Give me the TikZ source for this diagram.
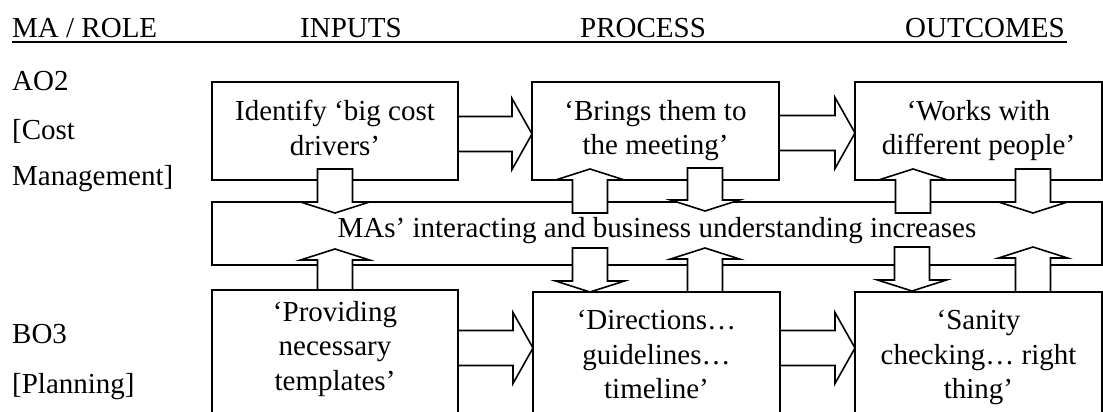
\documentclass[tikz,border=0pt]{standalone}
\usepackage{fontspec}
\setmainfont{Liberation Serif}
\usetikzlibrary{calc,positioning}
\tikzset{
  roleBox/.style={
    rectangle,
    draw=black,
    line width=1.6pt,
    inner sep=0pt,
    outer sep=0pt,
    anchor=north west
 },
  boxText/.style={
    align=center,
    inner sep=0pt
 },
  headText/.style={
    inner sep=0pt,
    anchor=base west
 },
  blockArrow/.style={
    draw=black,
    fill=white,
    line width=1.6pt
 },
  rightArrow/.style={
    blockArrow,
    to path={let \p1=(\tikztostart), \p2=(\tikztotarget) in
      (\x1,{\y1+17.5pt}) -- ({\x2-20pt},{\y1+17.5pt}) -- ({\x2-20pt},{\y1+35.5pt}) -- (\x2,\y1)
      -- ({\x2-20pt},{\y1-35.5pt}) -- ({\x2-20pt},{\y1-17.5pt}) -- (\x1,{\y1-17.5pt}) -- cycle}
 },
  vertArrow/.style={
    blockArrow,
    to path={let \p1=(\tikztostart), \p2=(\tikztotarget),
        \p3=($(\tikztotarget)!11pt!(\tikztostart)$) in
      ({\x1-17.5pt},\y1) -- ({\x1-17.5pt},\y3) -- ({\x1-34.5pt},\y3) -- (\x1,\y2)
      -- ({\x1+34.5pt},\y3) -- ({\x1+17.5pt},\y3) -- ({\x1+17.5pt},\y1) -- cycle}
 }
}

\begin{document}
\begin{tikzpicture}[x=1pt, y=-1pt, every node/.style={font=\fontsize{29}{34.5}\selectfont}]

            \useasboundingbox (0,0) rectangle (1103,412);
            \clip (0,0) rectangle (1103,412);

            % Column heads
            \node[headText] (roleHead) at (12,38) {MA / ROLE};
            \node[headText] (inputHead) at (300,38) {INPUTS};
            \node[headText] (processHead) at (580,38) {PROCESS};
            \node[headText] (outcomeHead) at (905,38) {OUTCOMES};
            \draw[line width=1.4pt] ($(roleHead.base west)+(0,4)$) -- ($(outcomeHead.base east)+(2,4)$);

            % Roles
            \node[headText] (aoCode) at (12,90) {AO2};
            \node[headText] (aoRoleA) at (12,139) {[Cost};
            \node[headText] (aoRoleB) at (12,185) {Management]};
            \node[headText] (boCode) at (12,343) {BO3};
            \node[headText] (boRole) at (12,393) {[Planning]};

            % Top row: AO2
            \node[roleBox, minimum width=246pt, minimum height=98pt] (cost) at (212,82) {};
            \node[roleBox, minimum width=247pt, minimum height=98pt, right=74pt of cost] (meeting) {};
            \node[roleBox, minimum width=247pt, minimum height=98pt, right=76pt of meeting] (people) {};

            % Middle band
            \node[roleBox, minimum width=890pt, minimum height=63pt] (interact) at (212,202) {};

            % Bottom row: BO3
            \node[roleBox, minimum width=246pt, minimum height=160pt] (templates) at (212,290) {};
            \node[roleBox, minimum width=247pt, minimum height=160pt] (directions) at (533,292) {};
            \node[roleBox, minimum width=247pt, minimum height=160pt] (sanity) at (855,292) {};

            % Arrows along the rows
            \draw[rightArrow] ($(cost.east)+(0,3)$) to (meeting.west);
            \draw[rightArrow] ($(meeting.east)+(0,2)$) to (people.west);
            \draw[rightArrow] ($(templates.north east)+(0,58)$) to (directions.west);
            \draw[rightArrow] ($(directions.north east)+(0,56)$) to (sanity.west);

            % Top row to band and back
            \draw[vertArrow] ($(cost.south)+(0,-11)$) to ($(cost.south |- interact.north)+(0,11)$);
            \draw[vertArrow] ($(meeting.south west |- interact.north)+(58,11)$) to ($(meeting.south west)+(58,-11)$);
            \draw[vertArrow] ($(meeting.south west)+(173,-12)$) to ($(meeting.south west |- interact.north)+(173,9)$);
            \draw[vertArrow] ($(people.south west |- interact.north)+(58,11)$) to ($(people.south west)+(58,-11)$);
            \draw[vertArrow] ($(people.south west)+(178,-11)$) to ($(people.south west |- interact.north)+(178,11)$);

            % Band to bottom row and back
            \draw[vertArrow] (templates.north) to ($(templates.north |- interact.south)+(0,-16)$);
            \draw[vertArrow] ($(directions.north west |- interact.south)+(57,-17)$) to ($(directions.north west)+(57,0)$);
            \draw[vertArrow] ($(directions.north west)+(172,0)$) to ($(directions.north west |- interact.south)+(172,-17)$);
            \draw[vertArrow] ($(sanity.north west |- interact.south)+(57,-18)$) to ($(sanity.north west)+(57,-1)$);
            \draw[vertArrow] ($(sanity.north west)+(178,0)$) to ($(sanity.north west |- interact.south)+(178,-18)$);

            % Texts
            \node[boxText, below=18pt of cost.north] (costText) {Identify ‘big cost\\drivers’};
            \node[boxText, below=18pt of meeting.north] (meetingText) {‘Brings them to\\the meeting’};
            \node[boxText, below=18pt of people.north] (peopleText) {‘Works with\\different people’};
            \node[boxText, anchor=base] (interactText) at ($(interact.north)+(0,35)$) {MAs’ interacting and business understanding increases};
            \node[boxText, below=11pt of templates.north] (templatesText) {‘Providing\\necessary\\templates’};
            \node[boxText, below=18pt of directions.north] (directionsText) {‘Directions…\\guidelines…\\timeline’};
            \node[boxText, below=18pt of sanity.north] (sanityText) {‘Sanity\\checking… right\\thing’};

        \end{tikzpicture}
\end{document}
